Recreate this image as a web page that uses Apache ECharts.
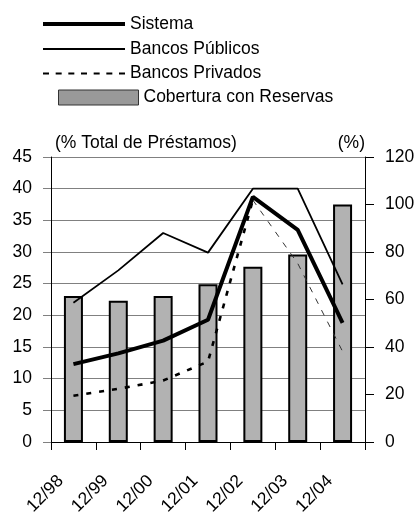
<!DOCTYPE html>
<html>
<head>
<meta charset="utf-8">
<script src="https://cdn.jsdelivr.net/npm/echarts@6/dist/echarts.min.js"></script>
<style>
  html, body { margin: 0; padding: 0; background: #fff; }
  #chart { width: 415px; height: 512px; }
</style>
</head>
<body>
<div id="chart"></div>
<script>
// Morosidad (% del total de préstamos) y cobertura con reservas (%)
const categories = ['12/98', '12/99', '12/00', '12/01', '12/02', '12/03', '12/04'];
const sistema   = [12.3, 14.0, 16.0, 19.3, 38.7, 33.5, 18.8];
const publicos  = [22.0, 27.1, 33.0, 29.9, 40.0, 40.0, 24.9];
const privados  = [7.3, 8.4, 9.7, 12.7, 38.2, 28.2, 14.3];
const cobertura = [61.5, 59.5, 61.5, 66.4, 73.8, 79.0, 100.0];
const leftTicks  = { min: 0, max: 45, interval: 5 };
const rightTicks = { min: 0, max: 120, interval: 20 };

const FONT = '"Liberation Sans", Arial, sans-serif';
const FS = 17.5;

// Bancos Privados: heavy dashes up to the 12/02 peak, thin dashes after it
const peak = 4;
const privadosA = privados.map((v, i) => (i <= peak ? v : null));
const privadosB = privados.map((v, i) => (i >= peak ? v : null));

// dashed legend sample: 7 dashes across an 82 px wide strip
const dashIcon = 'path://' + Array.from({ length: 7 }, (_, k) => {
  const x = (k * 76 / 6).toFixed(2);
  return 'M' + x + ',0h6v2h-6z';
}).join('');

const legendText = { fontFamily: FONT, fontSize: FS, lineHeight: 20, color: '#000' };
// each legend row is placed by the vertical centre of its sample
function legendRow(name, icon, left, centerY, w, h, itemStyle) {
  const item = { name: name, icon: icon };
  if (itemStyle) item.itemStyle = itemStyle;
  return {
    orient: 'vertical',
    left: left, top: centerY - 9, padding: 0,
    itemWidth: w, itemHeight: h,
    textStyle: legendText,
    selectedMode: false,
    data: [item]
  };
}

const chart = echarts.init(document.getElementById('chart'), null, { renderer: 'canvas' });

chart.setOption({
  animation: false,
  backgroundColor: '#fff',
  textStyle: { fontFamily: FONT, color: '#000' },
  grid: { left: 51, right: 50, top: 157, bottom: 70, containLabel: false, outerBoundsMode: 'none' },
  legend: [
    legendRow('Sistema', 'rect', 43, 23, 82, 4),
    legendRow('Bancos Públicos', 'rect', 43, 48, 82, 2),
    legendRow('Bancos Privados', dashIcon, 43, 72.5, 82, 2),
    legendRow('Cobertura con Reservas', 'rect', 58, 96.5, 80, 15,
      { color: '#999', borderColor: '#333', borderWidth: 1 })
  ],
  xAxis: {
    type: 'category',
    data: categories,
    boundaryGap: true,
    axisLine: { lineStyle: { color: '#000', width: 1 } },
    axisTick: { show: true, length: 8, interval: 0, lineStyle: { color: '#000' } },
    axisLabel: {
      interval: 0, rotate: 45, margin: 49,
      fontFamily: FONT, fontSize: FS, color: '#000',
      verticalAlign: 'bottom', lineHeight: 36
    }
  },
  yAxis: [
    {
      type: 'value',
      min: leftTicks.min, max: leftTicks.max, interval: leftTicks.interval,
      name: '(% Total de Préstamos)',
      nameLocation: 'end', nameGap: 14,
      nameTextStyle: { fontFamily: FONT, fontSize: FS, color: '#000', align: 'left', verticalAlign: 'middle', padding: [0, 0, 0, 4] },
      axisLine: { show: true, lineStyle: { color: '#000', width: 1 } },
      axisTick: { show: true, length: 8, lineStyle: { color: '#808080' } },
      axisLabel: { margin: 19, fontFamily: FONT, fontSize: FS, color: '#000' },
      splitLine: { show: true, lineStyle: { color: '#808080', width: 1 } }
    },
    {
      type: 'value',
      position: 'right',
      min: rightTicks.min, max: rightTicks.max, interval: rightTicks.interval,
      name: '(%)',
      nameLocation: 'end', nameGap: 14,
      nameTextStyle: { fontFamily: FONT, fontSize: FS, color: '#000', align: 'right', verticalAlign: 'middle' },
      axisLine: { show: true, lineStyle: { color: '#000', width: 1 } },
      axisTick: { show: true, length: 9, lineStyle: { color: '#000' } },
      axisLabel: { margin: 20, fontFamily: FONT, fontSize: FS, color: '#000' },
      splitLine: { show: false }
    }
  ],
  series: [
    {
      name: 'Cobertura con Reservas',
      type: 'bar',
      yAxisIndex: 1,
      data: cobertura,
      barWidth: 19,
      itemStyle: { color: '#b2b2b2', borderColor: '#000', borderWidth: 2 },
      z: 1
    },
    {
      name: 'Bancos Públicos',
      type: 'line',
      data: publicos,
      symbol: 'none',
      color: '#000',
      lineStyle: { color: '#000', width: 1.8 },
      z: 3
    },
    {
      name: 'Bancos Privados',
      type: 'line',
      data: privadosA,
      symbol: 'none',
      color: '#000',
      lineStyle: { color: '#000', width: 2.6, type: [5, 8] },
      z: 3
    },
    {
      name: 'Bancos Privados',
      type: 'line',
      data: privadosB,
      symbol: 'none',
      color: '#000',
      lineStyle: { color: '#333', width: 1, type: [6, 7] },
      z: 3
    },
    {
      name: 'Sistema',
      type: 'line',
      data: sistema,
      symbol: 'none',
      color: '#000',
      lineStyle: { color: '#000', width: 4 },
      z: 4
    }
  ]
});
</script>
</body>
</html>
